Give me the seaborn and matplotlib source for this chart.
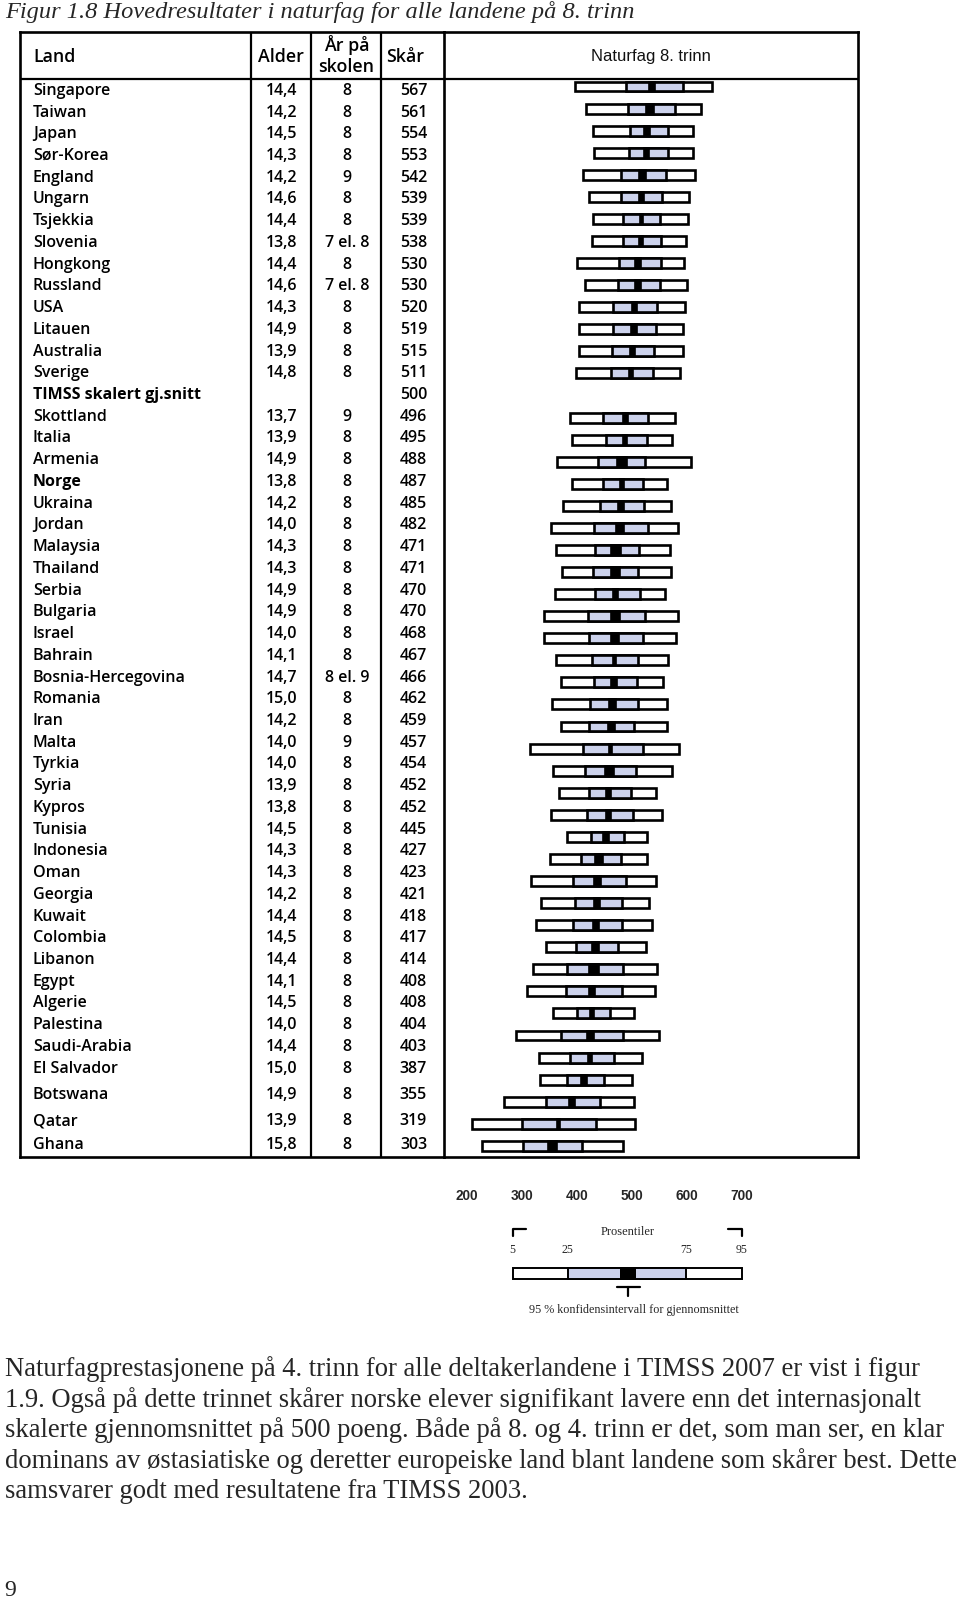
import numpy as np
import pandas as pd
import matplotlib
matplotlib.use("Agg")
import matplotlib.pyplot as plt
import seaborn as sns

sns.set_theme(style="white")
plt.rcParams["font.family"] = ["Open Sans", "DejaVu Sans"]

# table columns
land = ["Singapore", "Taiwan", "Japan", "Sør-Korea", "England", "Ungarn", "Tsjekkia",
        "Slovenia", "Hongkong", "Russland", "USA", "Litauen", "Australia", "Sverige",
        "TIMSS skalert gj.snitt", "Skottland", "Italia", "Armenia", "Norge", "Ukraina",
        "Jordan", "Malaysia", "Thailand", "Serbia", "Bulgaria", "Israel", "Bahrain",
        "Bosnia-Hercegovina", "Romania", "Iran", "Malta", "Tyrkia", "Syria", "Kypros",
        "Tunisia", "Indonesia", "Oman", "Georgia", "Kuwait", "Colombia", "Libanon",
        "Egypt", "Algerie", "Palestina", "Saudi-Arabia", "El Salvador", "Botswana",
        "Qatar", "Ghana"]
alder = ["14,4", "14,2", "14,5", "14,3", "14,2", "14,6", "14,4", "13,8", "14,4", "14,6",
         "14,3", "14,9", "13,9", "14,8", "", "13,7", "13,9", "14,9", "13,8", "14,2",
         "14,0", "14,3", "14,3", "14,9", "14,9", "14,0", "14,1", "14,7", "15,0", "14,2",
         "14,0", "14,0", "13,9", "13,8", "14,5", "14,3", "14,3", "14,2", "14,4", "14,5",
         "14,4", "14,1", "14,5", "14,0", "14,4", "15,0", "14,9", "13,9", "15,8"]
aar = ["8", "8", "8", "8", "9", "8", "8", "7 el. 8", "8", "7 el. 8", "8", "8", "8", "8",
       "", "9", "8", "8", "8", "8", "8", "8", "8", "8", "8", "8", "8", "8 el. 9", "8", "8",
       "9", "8", "8", "8", "8", "8", "8", "8", "8", "8", "8", "8", "8", "8", "8", "8", "8",
       "8", "8"]
skaar = [567, 561, 554, 553, 542, 539, 539, 538, 530, 530, 520, 519, 515, 511, 500,
         496, 495, 488, 487, 485, 482, 471, 471, 470, 470, 468, 467, 466, 462, 459,
         457, 454, 452, 452, 445, 427, 423, 421, 418, 417, 414, 408, 408, 404, 403,
         387, 355, 319, 303]

# percentiles (nan = no bar)
nan = np.nan
p5 = [363, 392, 410, 412, 385, 399, 410, 408, 367, 389, 372, 374, 372, 365, nan,
      350, 354, 316, 354, 332, 299, 311, 327, 310, 281, 281, 312, 325, 301, 325,
      242, 303, 320, 298, 342, 296, 246, 273, 258, 286, 250, 235, 303, 206, 268,
      270, 173, 89, 115]
p25 = [497, 503, 509, 506, 485, 485, 491, 491, 480, 478, 463, 464, 462, 457, nan,
       438, 444, 423, 438, 429, 414, 416, 411, 416, 398, 400, 409, 414, 403, 401,
       383, 388, 401, 394, 404, 378, 358, 363, 357, 365, 342, 338, 367, 326, 350,
       341, 286, 223, 226]
p75 = [648, 628, 609, 609, 604, 594, 588, 591, 590, 588, 579, 578, 572, 569, nan,
       557, 555, 548, 544, 547, 557, 533, 531, 535, 548, 542, 531, 528, 531, 518,
       542, 524, 510, 516, 493, 485, 498, 487, 487, 476, 491, 488, 456, 491, 466,
       440, 429, 418, 380]
p95 = [725, 696, 677, 675, 681, 664, 662, 657, 653, 659, 655, 648, 648, 640, nan,
       628, 621, 670, 606, 617, 635, 615, 617, 602, 637, 630, 609, 595, 606, 606,
       639, 619, 578, 593, 555, 553, 578, 560, 568, 550, 579, 575, 519, 586, 540,
       513, 518, 522, 491]
ci = [9, 10, 7, 6, 9, 6, 5, 6, 9, 9, 6, 7, 6, 6, nan, 7, 6, 13, 6, 7, 10, 13, 12, 7,
      12, 11, 4, 7, 10, 9, 5, 11, 7, 6, 8, 10, 9, 9, 8, 9, 13, 8, 6, 9, 6, 8, 7, 5, 11]

bold_rows = ["TIMSS skalert gj.snitt", "Norge"]

# legend example bar
leg_ticks = [200, 300, 400, 500, 600, 700]
leg_pct = [283, 383, 598, 700]
leg_pct_labels = ["5", "25", "75", "95"]
leg_mean, leg_ci = 493, 15

tittel = "Figur 1.8 Hovedresultater i naturfag for alle landene på 8. trinn"
avsnitt = [
    "Naturfagprestasjonene på 4. trinn for alle deltakerlandene i TIMSS 2007 er vist i figur",
    "1.9. Også på dette trinnet skårer norske elever signifikant lavere enn det internasjonalt",
    "skalerte gjennomsnittet på 500 poeng. Både på 8. og 4. trinn er det, som man ser, en klar",
    "dominans av østasiatiske og deretter europeiske land blant landene som skårer best. Dette",
    "samsvarer godt med resultatene fra TIMSS 2003.",
]

df = pd.DataFrame({"land": land, "alder": alder, "aar": aar, "skaar": skaar,
                   "p5": p5, "p25": p25, "p75": p75, "p95": p95, "ci": ci})
df["rad"] = np.arange(len(df))
bars = df.dropna(subset=["p5"])

W, H = 960, 1600
def box(x0, y0, x1, y1):
    return [x0 / W, 1 - y1 / H, (x1 - x0) / W, (y1 - y0) / H]

fig = plt.figure(figsize=(9.6, 16), dpi=100)
fig.patch.set_facecolor("white")

# row geometry (pixels)
row0, row_h = 86.5, 22.07
top_px, bot_px = 32, 1157
def to_row(px):
    return (np.asarray(px) - row0) / row_h

ylim = (to_row(bot_px), to_row(top_px))
hdr_line = to_row(78.5)
hdr_mid = to_row(57)
# the text rows of the scanned table sit slightly tighter than the bars
text_px = np.r_[90.8 + 21.73 * np.arange(len(df) - 3), [1095, 1121, 1145]]
df["tekst_rad"] = to_row(text_px)

ax_tab = fig.add_axes(box(20, top_px, 444, bot_px))
ax_bar = fig.add_axes(box(444, top_px, 858, bot_px))
ax_tab.set_xlim(20, 444)
# score scale of the bar column
ax_bar.set_xlim((444 - 438.3) / 0.3769, (858 - 438.3) / 0.3769)
for ax in (ax_tab, ax_bar):
    ax.set_ylim(*ylim)
    ax.set_xticks([])
    ax.set_yticks([])
    ax.grid(False)
    ax.set_facecolor("white")
    for s in ax.spines.values():
        s.set_color("black")
        s.set_linewidth(1.9)
    ax.axhline(hdr_line, color="black", lw=1.6)
ax_tab.spines["right"].set_visible(False)

for x in (251, 311, 381):
    ax_tab.axvline(x, color="black", lw=1.6)

# header
hdr_kw = dict(fontsize=12.8, color="black", va="center", fontweight="semibold")
ax_tab.text(33, hdr_mid, "Land", ha="left", **hdr_kw)
ax_tab.text(280.5, hdr_mid, "Alder", ha="center", **hdr_kw)
ax_tab.text(346.5, to_row(45), "År på", ha="center", **hdr_kw)
ax_tab.text(346.5, to_row(67), "skolen", ha="center", **hdr_kw)
ax_tab.text(405, hdr_mid, "Skår", ha="center", **hdr_kw)
ax_bar.text(0.5, hdr_mid, "Naturfag 8. trinn", ha="center", va="center",
            fontsize=12, family="Liberation Sans", color="#111111",
            transform=ax_bar.get_yaxis_transform())

# rows
for _, r in df.iterrows():
    w = "bold" if r["land"] in bold_rows else "semibold"
    kw = dict(fontsize=11.5, color="black", va="center")
    y = r["tekst_rad"]
    ax_tab.text(33, y, r["land"], ha="left", fontweight=w, **kw)
    ax_tab.text(281.5, y, r["alder"], ha="center", fontweight="semibold", **kw)
    ax_tab.text(347, y, r["aar"], ha="center", fontweight="semibold", **kw)
    ax_tab.text(413.5, y, str(r["skaar"]), ha="center", fontweight="semibold", **kw)

fill = "#ccd2ec"
bh = 0.45
ax_bar.barh(bars["rad"], bars["p95"] - bars["p5"], left=bars["p5"], height=bh,
            color="white", edgecolor="black", linewidth=1.9)
ax_bar.barh(bars["rad"], bars["p75"] - bars["p25"], left=bars["p25"], height=bh,
            color=fill, edgecolor="black", linewidth=1.9)
ax_bar.barh(bars["rad"], 2 * bars["ci"], left=bars["skaar"] - bars["ci"], height=bh,
            color="black", edgecolor="black", linewidth=1.2)

# legend
ax_leg = fig.add_axes(box(440, 1206, 770, 1320))
ax_leg.set_xlim(200 - 27 / 0.55, 200 + 303 / 0.55)
ax_leg.set_ylim(1320, 1206)
ax_leg.set_facecolor("none")
for s in ax_leg.spines.values():
    s.set_visible(False)
ax_leg.xaxis.tick_top()
ax_leg.set_xticks(leg_ticks)
ax_leg.set_xticklabels([str(t) for t in leg_ticks], fontsize=9.8, fontweight="bold",
                       family="Liberation Sans")
ax_leg.tick_params(axis="x", length=0, pad=2)
ax_leg.set_yticks([])

lp5, lp25, lp75, lp95 = leg_pct
ax_leg.barh([1273], [lp95 - lp5], left=[lp5], height=11, color="white",
            edgecolor="black", linewidth=1.4)
ax_leg.barh([1273], [lp75 - lp25], left=[lp25], height=11, color=fill,
            edgecolor="black", linewidth=1.4)
ax_leg.barh([1273], [2 * leg_ci], left=[leg_mean - leg_ci], height=11, color="black",
            linewidth=0)
ax_leg.plot([lp5 + 25, lp5, lp5], [1229, 1229, 1236], color="black", lw=1.6)
ax_leg.plot([lp95 - 25, lp95, lp95], [1229, 1229, 1236], color="black", lw=1.6)
ax_leg.text((lp5 + lp95) / 2, 1232, "Prosentiler", ha="center", va="center",
            fontsize=9, family="Liberation Serif")
for v, t in zip(leg_pct, leg_pct_labels):
    ax_leg.text(v, 1250, t, ha="center", va="center", fontsize=8.5,
                family="Liberation Serif")
ax_leg.plot([leg_mean - 21, leg_mean + 21], [1287, 1287], color="black", lw=1.6)
ax_leg.plot([leg_mean, leg_mean], [1287, 1296], color="black", lw=1.6)
ax_leg.text(leg_mean + 10, 1310, "95 % konfidensintervall for gjennomsnittet",
            ha="center", va="center", fontsize=8.7, family="Liberation Serif")

# page text
fig.text(5 / W, 1 - 12 / H, tittel, ha="left", va="center", fontsize=17.6,
         style="italic", family="Liberation Serif")
for i, line in enumerate(avsnitt):
    fig.text(5 / W, 1 - (1369 + 30.7 * i) / H, line, ha="left", va="center",
             fontsize=19.2, family="Liberation Serif")
fig.text(10 / W, 1 - 1590 / H, "9", ha="center", va="center", fontsize=17,
         family="Liberation Serif")

fig.savefig("out.png", dpi=100, facecolor="white")
